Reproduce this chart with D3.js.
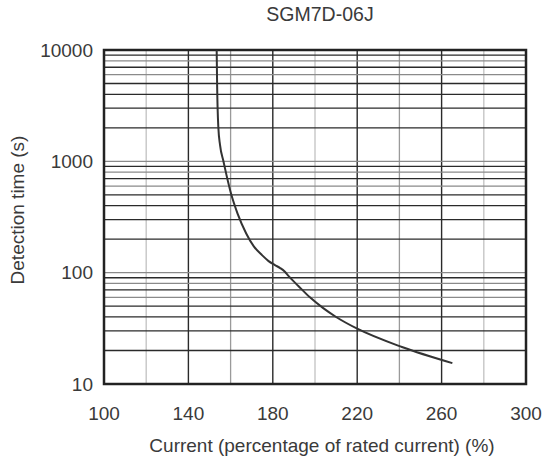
<!DOCTYPE html>
<html>
<head>
<meta charset="utf-8">
<script src="https://cdn.jsdelivr.net/npm/d3@7/dist/d3.min.js"></script>
<style>
  html, body { margin: 0; padding: 0; background: #fff; }
  text { font-family: "Liberation Sans", Arial, sans-serif; fill: #3a3a3a; }
</style>
</head>
<body>
<svg id="chart" width="544" height="465"></svg>
<script>
const title = "SGM7D-06J";
const xLabel = "Current (percentage of rated current) (%)";
const yLabel = "Detection time (s)";
const xTicks = [100, 140, 180, 220, 260, 300];
const xLightGrid = [120, 200, 280];
const xMidGrid = [160, 240];
const yTicks = [10, 100, 1000, 10000];
const currentPct = [153.4, 153.6, 154.2, 155.0, 156.6, 158.0, 160.2, 163.3, 167.4, 171.0, 175.0, 178.0, 181.0, 183.5, 185.5, 187.3, 192.1, 197.6, 203.9, 210.0, 220.0, 241.2, 265.1];
const detectSec  = [10000, 5000, 2000, 1400, 1000, 760, 513, 339, 225, 172, 143, 127, 117, 110, 103, 94, 76, 60, 48, 40, 31.4, 21.5, 15.4];

const svg = d3.select("#chart");
const m = { left: 104, right: 526, top: 50, bottom: 384 };
const x = d3.scaleLinear().domain([100, 300]).range([m.left, m.right]);
const y = d3.scaleLog().domain([10, 10000]).range([m.bottom, m.top]);

// vertical grid
svg.append("g").selectAll("line").data(xLightGrid).join("line")
  .attr("x1", d => x(d)).attr("x2", d => x(d))
  .attr("y1", m.top).attr("y2", m.bottom)
  .attr("stroke", "#c6c6c6").attr("stroke-width", 1.4);
svg.append("g").selectAll("line").data(xMidGrid).join("line")
  .attr("x1", d => x(d)).attr("x2", d => x(d))
  .attr("y1", m.top).attr("y2", m.bottom)
  .attr("stroke", "#9a9a9a").attr("stroke-width", 1.3);
svg.append("g").selectAll("line").data(xTicks.slice(1, -1)).join("line")
  .attr("x1", d => x(d)).attr("x2", d => x(d))
  .attr("y1", m.top).attr("y2", m.bottom)
  .attr("stroke", "#2a2a2a").attr("stroke-width", 1.4);

// horizontal grid (log minor lines)
const hLines = [];
[10, 100, 1000].forEach(dec => {
  for (let k = 1; k <= 9; k++) {
    const v = dec * k;
    if (v <= 10) continue;
    let color;
    if (k === 1) color = "#8a8a8a";
    else if (k <= 5) color = "#2a2a2a";
    else if (k === 6 || k === 8) color = "#8a8a8a";
    else color = "#2a2a2a";
    hLines.push({ v, color });
  }
});
svg.append("g").selectAll("line").data(hLines).join("line")
  .attr("x1", m.left).attr("x2", m.right)
  .attr("y1", d => y(d.v)).attr("y2", d => y(d.v))
  .attr("stroke", d => d.color).attr("stroke-width", 1.3);

// frame
svg.append("rect")
  .attr("x", m.left).attr("y", m.top)
  .attr("width", m.right - m.left).attr("height", m.bottom - m.top)
  .attr("fill", "none").attr("stroke", "#222").attr("stroke-width", 2.5);

// curve
const pts = currentPct.map((c, i) => [c, detectSec[i]]);
const line = d3.line().x(d => x(d[0])).y(d => y(d[1])).curve(d3.curveMonotoneX);
svg.append("path").datum(pts)
  .attr("d", line)
  .attr("fill", "none").attr("stroke", "#333").attr("stroke-width", 2);

// axes labels
svg.append("g").selectAll("text").data(xTicks).join("text")
  .attr("x", d => x(d)).attr("y", 420)
  .attr("text-anchor", "middle").attr("font-size", 19)
  .text(d => d);
svg.append("g").selectAll("text").data(yTicks).join("text")
  .attr("x", 93).attr("y", d => y(d) + 6.7)
  .attr("text-anchor", "end").attr("font-size", 19)
  .text(d => d);

svg.append("text").attr("x", 320).attr("y", 21)
  .attr("text-anchor", "middle").attr("font-size", 19.5).text(title);
svg.append("text").attr("x", 322).attr("y", 452)
  .attr("text-anchor", "middle").attr("font-size", 19).text(xLabel);
svg.append("text")
  .attr("transform", "translate(24,210) rotate(-90)")
  .attr("text-anchor", "middle").attr("font-size", 19).text(yLabel);
</script>
</body>
</html>
